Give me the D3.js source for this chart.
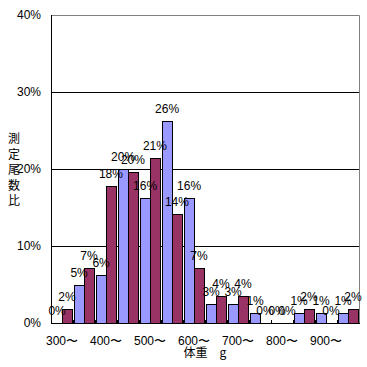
<!DOCTYPE html>
<html>
<head>
<meta charset="utf-8">
<script src="https://cdn.jsdelivr.net/npm/d3@7"></script>
<style>
body { margin:0; background:#fff; }
text { font-family: "Liberation Sans Narrow", "Liberation Sans", sans-serif; }
.jp { font-family: "Noto Sans CJK JP", sans-serif; }
</style>
</head>
<body>
<script>
// weight classes (g)
var groups = ["300","350","400","450","500","550","600","650","700","750","800","850","900","950"];
var tickLabels = ["300〜","400〜","500〜","600〜","700〜","800〜","900〜"];
// percentages
var seriesA = [0, 4.9, 6.2, 20.0, 16.2, 26.2, 16.2, 2.5, 2.5, 1.3, 0, 1.3, 1.3, 1.3];
var seriesB = [1.8, 7.1, 17.8, 19.6, 21.4, 14.2, 7.1, 3.5, 3.5, 0, 0, 1.8, 0, 1.8];
var yTicks = [0, 10, 20, 30, 40];

var W = 367, H = 367;
var margin = {left:51, top:15, right:8, bottom:44};
var frame_w = W - margin.left - margin.right;
var frame_h = H - margin.top - margin.bottom;

var svg = d3.select("body").append("svg").attr("width", W).attr("height", H);
var g = svg.append("g").attr("transform", "translate(" + margin.left + "," + margin.top + ")");

var xScale = d3.scaleBand().domain(groups).range([0, frame_w]).paddingInner(0.1).paddingOuter(0.05);
var xSub = d3.scaleBand().domain(["a","b"]).range([0, xScale.bandwidth()]);
var yScale = d3.scaleLinear().domain([0, 40]).range([frame_h, 0]);

// gridlines
g.selectAll(".grid").data(yTicks.filter(d => d > 0 && d < 40)).enter()
  .append("line")
  .attr("x1", 0).attr("x2", frame_w)
  .attr("y1", d => Math.round(yScale(d)) + 0.5).attr("y2", d => Math.round(yScale(d)) + 0.5)
  .attr("stroke", "#000").attr("stroke-width", 1);

// top / right frame
g.append("path")
  .attr("d", "M0.5,0.5H" + (frame_w + 0.5) + "V" + frame_h)
  .attr("fill", "none").attr("stroke", "#808080");

var rows = groups.map((k, i) => ({k: k, a: seriesA[i], b: seriesB[i]}));
var series = [{key:"a", col:"#9999FF"}, {key:"b", col:"#993366"}];

series.forEach(function(s) {
  g.selectAll(".bar-" + s.key).data(rows.filter(d => d[s.key] > 0)).enter()
    .append("rect")
    .attr("x", d => Math.round(xScale(d.k) + xSub(s.key)) + 0.5)
    .attr("y", d => Math.round(yScale(d[s.key])) + 0.5)
    .attr("width", Math.round(xSub.bandwidth()))
    .attr("height", d => frame_h - Math.round(yScale(d[s.key])))
    .attr("fill", s.col)
    .attr("stroke", "#000").attr("stroke-width", 1);
});

// value labels
series.forEach(function(s) {
  g.selectAll(".lab-" + s.key).data(rows).enter()
    .append("text")
    .attr("x", d => xScale(d.k) + xSub(s.key) + xSub.bandwidth() / 2)
    .attr("y", d => yScale(d[s.key]) - 8)
    .attr("text-anchor", "middle")
    .attr("font-size", "12px")
    .text(d => Math.round(d[s.key]) + "%");
});

// axes
g.append("line").attr("x1", 0.5).attr("x2", 0.5).attr("y1", 0).attr("y2", frame_h + 0.5).attr("stroke", "#000");
g.append("line").attr("x1", 0).attr("x2", frame_w + 1).attr("y1", frame_h + 0.5).attr("y2", frame_h + 0.5).attr("stroke", "#000");

// x tick marks at group boundaries
g.selectAll(".xt").data(groups.slice(1)).enter()
  .append("line")
  .attr("x1", d => Math.round(xScale(d) - xScale.step() * xScale.paddingInner() / 2) + 0.5)
  .attr("x2", d => Math.round(xScale(d) - xScale.step() * xScale.paddingInner() / 2) + 0.5)
  .attr("y1", frame_h - 3).attr("y2", frame_h)
  .attr("stroke", "#000");

// y tick labels
g.selectAll(".yl").data(yTicks).enter()
  .append("text")
  .attr("x", -10).attr("y", d => yScale(d) + 4)
  .attr("text-anchor", "end").attr("font-size", "12px")
  .text(d => d + "%");

// x tick labels (every other class)
g.selectAll(".xl").data(tickLabels).enter()
  .append("text")
  .attr("x", (d, i) => xScale(groups[i * 2]) + xScale.bandwidth() / 2)
  .attr("y", frame_h + 22)
  .attr("text-anchor", "middle").attr("font-size", "12px")
  .text(d => d);

// axis titles
svg.append("text").attr("class", "jp")
  .attr("x", margin.left + frame_w / 2).attr("y", 357)
  .attr("text-anchor", "middle").attr("font-size", "12px")
  .text("体重　g");

var yTitle = "測定尾数比".split("");
svg.selectAll(".yt").data(yTitle).enter()
  .append("text").attr("class", "jp")
  .attr("x", 14).attr("y", (d, i) => 143 + i * 15.5)
  .attr("text-anchor", "middle").attr("font-size", "12px")
  .text(d => d);
</script>
</body>
</html>
